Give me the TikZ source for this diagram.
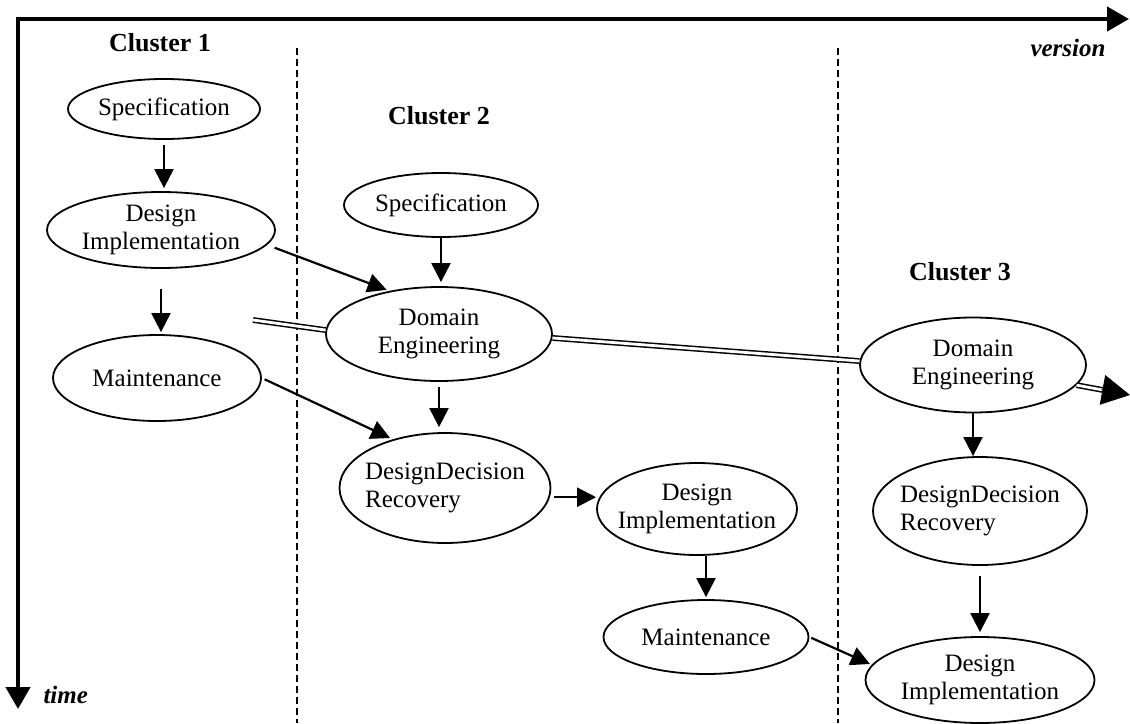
\documentclass[tikz,border=0pt]{standalone}
\usepackage{fontspec}
\setmainfont{Liberation Serif}
\usetikzlibrary{arrows.meta,shapes.geometric,calc}
\begin{document}
\begin{tikzpicture}[x=1pt,y=-1pt,
  proc/.style={ellipse, draw, line width=1.8pt, inner xsep=-25pt, inner ysep=-12pt, align=center, font=\fontsize{25}{28}\selectfont},
  procl/.style={proc, align=left},
  arr/.style={line width=2.2pt, -{Triangle[length=19pt,width=19pt]}},
  dbl/.style={double, double distance=2.8pt, line width=1.5pt},
  axis/.style={line width=4.5pt, -{Triangle[length=22pt,width=24pt]}},
  sep/.style={line width=1.6pt, dash pattern=on 7pt off 4pt},
  clabel/.style={font=\fontsize{26}{30}\selectfont\bfseries},
  alabel/.style={font=\fontsize{25}{30}\selectfont\bfseries\itshape}]
\useasboundingbox (0,0) rectangle (1130,723);

% axes
\coordinate (corner) at (18,19);
\coordinate (xend) at (1129,19);
\coordinate (yend) at (18,709);
\draw[axis, line cap=rect] (corner) -- (xend);
\draw[axis, line cap=rect] (corner) -- (yend);
\node[alabel, anchor=west] (time) at (40,695) {time};
\node[alabel] (version) at (1068,48) {version};

% cluster separators
\coordinate (s1t) at (297,48);
\coordinate (s1b) at (297,723);
\coordinate (s2t) at (838,48);
\coordinate (s2b) at (838,723);
\draw[sep] (s1t) -- (s1b);
\draw[sep] (s2t) -- (s2b);

% cluster labels
\node[clabel] (c1) at (160,43) {Cluster 1};
\node[clabel] (c2) at (439,116) {Cluster 2};
\node[clabel] (c3) at (960,272) {Cluster 3};

% nodes
\node[proc, minimum width=192pt, minimum height=60pt] (spec1) at (164,109) {Specification};
\node[proc, minimum width=228pt, minimum height=76pt] (di1) at (161,230) {Design\\Implementation};
\node[proc, minimum width=208pt, minimum height=86pt] (m1) at (157,378) {Maintenance};

\node[proc, minimum width=194pt, minimum height=64pt] (spec2) at (441,205) {Specification};
\node[proc, minimum width=226pt, minimum height=94pt] (de2) at (439,334) {Domain\\Engineering};
\node[procl, minimum width=211pt, minimum height=110pt] (ddr2) at (445,488) {DesignDecision\\Recovery};
\node[proc, minimum width=200pt, minimum height=92pt] (di2) at (697,509) {Design\\Implementation};
\node[proc, minimum width=205pt, minimum height=74pt] (m2) at (706,637) {Maintenance};

\node[proc, minimum width=226pt, minimum height=95pt] (de3) at (973,365) {Domain\\Engineering};
\node[procl, minimum width=214pt, minimum height=108pt] (ddr3) at (980,511) {DesignDecision\\Recovery};
\node[proc, minimum width=229pt, minimum height=86pt] (di3) at (980,680) {Design\\Implementation};

% connectors
\draw[arr, shorten <=5pt, shorten >=3pt] (spec1.south) -- (spec1.south |- di1.north);
\draw[arr, shorten <=20pt, shorten >=2pt] (di1.south) -- (di1.south |- m1.north);
\draw[arr, shorten <=8pt, shorten >=3pt] (di1.-8) -- (de2.139);
\draw[arr, shorten >=4pt] (spec2.south) -- (spec2.south |- de2.north);
\draw[arr, shorten <=3pt, shorten >=3pt] (m1.east) -- (ddr2.137);
\draw[arr, shorten <=5pt, shorten >=5pt] (de2.south) -- (de2.south |- ddr2.north);
\draw[arr, shorten <=4pt] (ddr2.-5) -- (ddr2.-5 -| di2.west);
\draw[arr, shorten <=0pt, shorten >=2pt] (m2.south |- di2.south) -- (m2.north);
\draw[arr, shorten <=2pt, shorten >=2pt] (m2.east) -- (di3.172);
\draw[arr, shorten >=0pt] (de3.south) -- (de3.south |- ddr3.north);
\draw[arr, shorten <=10pt, shorten >=4pt] (ddr3.south) -- (ddr3.south |- di3.north);

% double lines
\coordinate (dstart) at (253,320);
\coordinate (dend) at (1130,395);
\draw[dbl] (dstart) -- (de2.178);
\draw[dbl] (de2.-2) -- (de3.178);
\draw[dbl, shorten >=27pt] (de3.-11) -- (dend);
\draw[-{Triangle[length=28pt,width=30pt]}, line width=1pt] ($(dend)!29pt!(de3.-11)$) -- (dend);
\end{tikzpicture}
\end{document}
